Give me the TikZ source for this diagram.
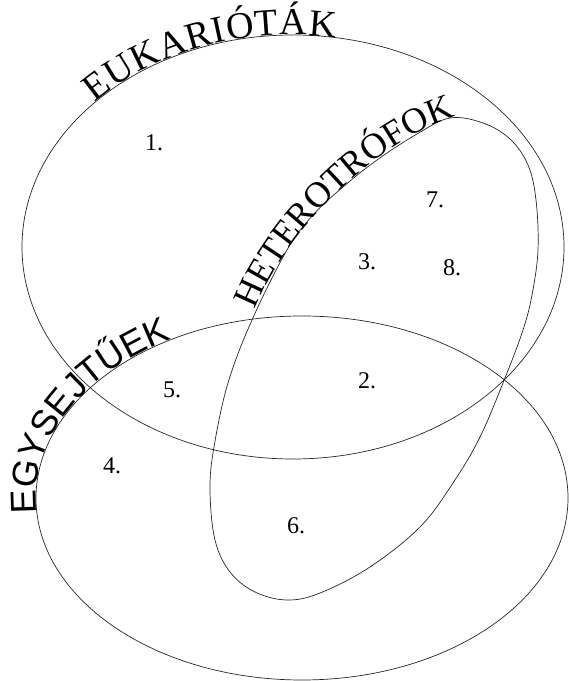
\documentclass[tikz,border=0pt]{standalone}
\usepackage{fontspec}
\usepackage{tikz}
\usetikzlibrary{decorations.text}
\setmainfont{Liberation Serif}
\newfontfamily\labserif{Liberation Serif}
\newfontfamily\labsans{Liberation Sans}
\newcommand{\eukfont}{\labserif\fontsize{38}{44}\selectfont}
\newcommand{\hetfont}{\labserif\fontsize{36}{42}\selectfont}
\newcommand{\egyfont}{\labsans\fontsize{36}{42}\selectfont}
\tikzset{
  venn/.style     = {draw=black!85, line width=0.7pt},
  num/.style      = {inner sep=0pt, font=\fontsize{24}{28}\selectfont},
  curvetext/.style = {decorate, decoration={text along path, text={#1},
                      text align={fit to path}}},
}

\begin{document}
\begin{tikzpicture}[x=1pt, y=1pt]
  \useasboundingbox (0,0) rectangle (569,681);
  \coordinate (euk) at (293,434);
  \coordinate (egy) at (302,183);
  \coordinate (hstart) at (255,371);
  \coordinate (hend) at (452,563);

  % the three sets
  \draw[venn] (euk) ellipse [x radius=271pt, y radius=212pt];
  \draw[venn] (egy) ellipse [x radius=266pt, y radius=182pt];
  \draw[venn] plot[smooth cycle, tension=0.6] coordinates {
    (450,563) (483,558) (510,542) (528,516) (536,481) (538,431) (532,386)
    (523,351) (505,303) (480,244) (453,198) (420,154) (370,114) (320,88)
    (287,81) (255,89) (230,109) (215,141) (210,191) (214,234) (228,298)
    (252,361) (287,431) (313,466) (343,494) (377,521) (417,547)};

  % names along the outlines
  \path[curvetext={|\eukfont|EUKARIÓTÁK}]
    ([shift={(euk)}]137:271 and 212) arc [start angle=137, end angle=81,
    x radius=271pt, y radius=212pt];
  \path[curvetext={|\hetfont|HETEROTRÓFOK}]
    (hstart) .. controls (285,448) and (372,536) .. (hend);
  \path[curvetext={|\egyfont|EGYSEJTŰEK}]
    ([shift={(egy)}]185:266 and 182) arc [start angle=185, end angle=120,
    x radius=266pt, y radius=182pt];

  % regions
  \node[num] (n1) at (154,538) {1.};
  \node[num] (n2) at (367,300) {2.};
  \node[num] (n3) at (367,419) {3.};
  \node[num] (n4) at (112,215) {4.};
  \node[num] (n5) at (172,291) {5.};
  \node[num] (n6) at (296,155) {6.};
  \node[num] (n7) at (435,481) {7.};
  \node[num] (n8) at (452,413) {8.};
\end{tikzpicture}
\end{document}
